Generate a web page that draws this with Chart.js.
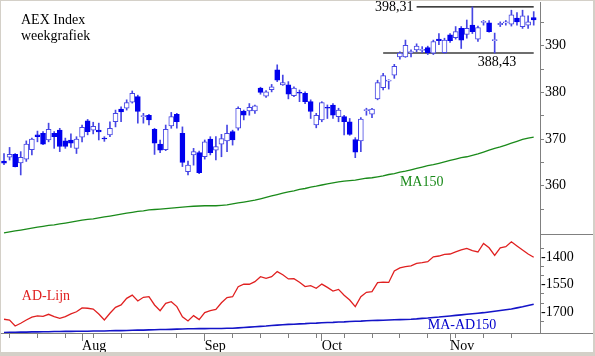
<!DOCTYPE html>
<html><head><meta charset="utf-8">
<script src="https://cdn.jsdelivr.net/npm/chart.js@4"></script>
<style>html,body{margin:0;padding:0;background:#fff;}canvas{display:block;}</style>
</head><body>
<canvas id="c" width="595" height="356"></canvas>
<script>
// ---- data (daily candles, 12 Jul - 22 Nov) ----
const openV  = [365.3,366.1,366.7,364.9,365.7,367.7,370.9,371.2,369.8,371.2,371.9,369.6,369.8,368.0,370.4,373.9,371.9,371.9,370.1,370.9,373.7,376.4,376.6,377.9,379.1,374.8,375.1,372.1,368.9,367.7,372.8,375.3,371.2,363.0,366.6,367.1,366.2,370.0,367.6,368.9,369.6,371.6,372.3,376.0,376.0,376.0,380.9,379.2,380.6,384.8,381.6,381.6,379.3,379.9,379.8,378.0,373.0,374.1,376.7,377.3,374.8,374.8,373.7,369.9,369.6,376.1,375.3,378.6,381.0,382.4,383.7,387.6,387.6,388.5,389.1,389.0,389.6,388.4,391.4,388.5,392.3,391.7,393.7,392.4,394.4,391.4,395.0,394.9,391.1,394.5,394.9,394.6,395.9,394.1,394.4,396.0];
const highV  = [366.9,368.2,366.9,367.3,369.6,370.2,371.7,371.6,373.4,371.6,372.3,370.2,371.1,370.5,373.0,374.2,373.6,373.4,370.5,373.7,376.2,376.9,378.4,380.3,379.4,375.5,375.3,372.3,369.8,373.0,375.7,375.5,372.6,365.3,368.0,367.4,369.8,370.5,370.5,371.0,373.0,371.9,376.9,376.2,377.6,377.3,381.1,380.4,381.7,385.9,383.7,382.3,381.2,380.5,380.1,378.4,375.5,378.0,377.3,377.6,376.6,375.1,374.4,370.3,374.6,376.6,376.6,382.6,384.1,382.7,386.0,388.7,391.2,389.1,390.4,389.8,389.9,391.2,392.6,391.6,392.6,394.1,394.1,395.5,398.31,394.2,395.4,395.4,392.7,395.1,395.4,397.6,397.1,397.6,396.4,397.3];
const lowV   = [364.5,365.5,364.0,362.3,365.2,366.6,369.4,368.8,369.4,368.0,367.3,368.0,368.2,366.9,369.4,370.9,371.1,369.8,369.5,370.5,372.6,373.7,376.2,377.7,373.4,373.4,373.0,366.7,367.1,367.5,372.3,372.3,364.1,362.3,364.4,362.6,365.7,366.6,365.5,366.2,367.3,368.7,371.9,374.1,375.1,375.5,379.6,378.9,380.1,382.3,381.5,378.6,379.1,378.0,377.6,374.4,372.4,373.7,374.4,374.4,373.7,370.9,370.8,366.0,367.3,375.1,374.6,378.4,380.5,380.7,383.0,387.1,387.5,387.6,388.7,388.5,388.1,388.1,390.2,388.4,390.7,391.4,389.4,391.6,392.6,390.9,394.4,392.9,388.43,394.1,394.4,394.2,394.4,393.7,393.7,394.4];
const closeV = [364.8,366.7,364.1,366.1,368.9,370.0,370.5,368.9,372.1,370.5,368.4,368.4,369.1,370.0,372.5,371.6,372.7,371.5,370.0,372.3,375.5,375.8,377.8,379.8,375.9,375.0,374.1,369.1,367.6,372.1,374.8,373.7,365.0,364.4,367.3,362.8,369.4,367.1,368.4,370.1,371.2,369.8,376.6,375.1,376.8,377.1,380.0,380.1,381.2,382.6,382.1,379.6,380.9,379.8,378.0,375.9,375.1,377.8,376.6,375.1,376.2,373.7,371.0,367.2,374.3,376.2,376.4,382.1,383.6,382.5,385.6,388.4,390.1,388.6,389.9,389.1,388.5,390.9,391.1,391.2,391.1,393.0,391.2,393.7,393.0,393.9,395.1,393.0,391.2,394.8,395.0,396.6,395.1,396.4,395.1,395.5];
const ma150  = [349.9,350.1,350.3,350.5,350.7,350.9,351.1,351.3,351.5,351.6,351.8,352.0,352.2,352.4,352.6,352.8,352.9,353.1,353.3,353.5,353.7,353.9,354.1,354.3,354.5,354.6,354.8,354.9,355.0,355.1,355.2,355.3,355.4,355.5,355.6,355.65,355.7,355.7,355.7,355.8,355.9,356.1,356.3,356.5,356.7,356.9,357.2,357.5,357.8,358.1,358.4,358.7,358.9,359.2,359.4,359.7,359.9,360.15,360.4,360.6,360.8,361.0,361.1,361.2,361.4,361.6,361.7,361.9,362.1,362.4,362.6,362.9,363.1,363.4,363.7,364.0,364.3,364.5,364.8,365.1,365.4,365.7,366.0,366.2,366.5,366.8,367.2,367.6,368.0,368.3,368.7,369.1,369.5,369.9,370.2,370.4];
const adLine = [-1738,-1742,-1775,-1760,-1742,-1726,-1720,-1722,-1711,-1724,-1733,-1724,-1709,-1697,-1676,-1678,-1682,-1709,-1742,-1705,-1673,-1660,-1624,-1606,-1638,-1618,-1615,-1660,-1691,-1651,-1642,-1669,-1724,-1747,-1718,-1740,-1702,-1691,-1684,-1648,-1620,-1615,-1560,-1547,-1547,-1533,-1506,-1515,-1506,-1478,-1495,-1518,-1517,-1536,-1560,-1555,-1569,-1546,-1564,-1584,-1575,-1607,-1633,-1669,-1615,-1591,-1587,-1538,-1535,-1537,-1475,-1458,-1451,-1447,-1433,-1429,-1424,-1397,-1393,-1384,-1382,-1371,-1360,-1351,-1364,-1371,-1324,-1348,-1389,-1348,-1342,-1315,-1338,-1360,-1382,-1400];
const maAd150 = [-1810,-1809,-1809,-1808,-1808,-1807,-1807,-1806,-1806,-1805,-1805,-1804,-1804,-1803,-1803,-1803,-1802,-1802,-1802,-1801,-1800,-1800,-1799,-1798,-1797,-1797,-1796,-1795,-1794,-1794,-1793,-1792,-1791,-1790,-1790,-1789,-1789,-1788,-1788,-1788,-1787,-1787,-1785,-1783,-1781,-1779,-1777,-1775,-1772,-1770,-1768,-1766,-1765,-1763,-1762,-1760,-1759,-1757,-1756,-1755,-1753,-1752,-1750,-1749,-1748,-1746,-1745,-1744,-1743,-1742,-1741,-1740,-1739,-1738,-1736,-1733,-1731,-1728,-1726,-1723,-1720,-1717,-1714,-1711,-1708,-1705,-1702,-1698,-1694,-1690,-1686,-1682,-1676,-1670,-1663,-1656];
const priceTicks = [355,360,365,370,375,380,385,390,395];
const priceLabels = [360,370,380,390];
const adTicks = [-1350,-1400,-1450,-1500,-1550,-1600,-1650,-1700,-1750];
const adLabels = [-1400,-1550,-1700];
const weekTicks = [1,6,11,16,21,26,31,36,41,46,51,56,61,66,71,76,81,86,91];
const monthTicks = [14,36,57,80];
const monthNames = ['Aug','Sep','Oct','Nov'];
const highMark = 398.31, highMarkFrom = 74;
const lowMark = 388.43, lowMarkFrom = 68;
const highMarkText = '398,31', lowMarkText = '388,43';

// ---- build ----
const idx = openV.map((_, i) => i);
const allXTicks = Array.from(new Set(weekTicks.concat(monthTicks))).sort((a,b)=>a-b);
const up = i => closeV[i] >= openV[i];
const FONT = 'Liberation Serif';
const BLUE = '#0000ee', OUT = '#4646e4';
const noPad = s => { s.paddingTop = 0; s.paddingBottom = 0; s.paddingLeft = 0; s.paddingRight = 0; };

const labelsPlugin = {
  id: 'labels',
  afterDraw(chart) {
    const c = chart.ctx, x = chart.scales.x, y = chart.scales.y, y2 = chart.scales.y2, ca = chart.chartArea;
    c.save();
    c.strokeStyle = '#808080'; c.lineWidth = 1;
    c.beginPath();
    c.moveTo(ca.right, Math.round(y.bottom) + 0.5); c.lineTo(chart.width, Math.round(y.bottom) + 0.5);
    c.moveTo(ca.right, Math.round(ca.bottom) + 0.5); c.lineTo(chart.width, Math.round(ca.bottom) + 0.5);
    c.stroke();
    c.font = '14px "' + FONT + '"';
    c.textBaseline = 'alphabetic';
    c.fillStyle = '#000';
    c.textAlign = 'left';
    c.fillText('AEX Index', ca.left + 20, 24);
    c.fillText('weekgrafiek', ca.left + 20, 40);
    c.textBaseline = 'middle';
    c.textAlign = 'right';
    c.fillText(highMarkText, x.getPixelForValue(highMarkFrom) - 3, y.getPixelForValue(highMark));
    c.textAlign = 'center';
    c.fillText(lowMarkText, x.getPixelForValue(88.4), y.getPixelForValue(lowMark) + 9);
    c.textAlign = 'left';
    c.fillStyle = '#1a8a1a';
    c.fillText('MA150', x.getPixelForValue(71), y.getPixelForValue(360.8));
    c.fillStyle = '#e02020';
    c.fillText('AD-Lijn', x.getPixelForValue(3.2), y2.getPixelForValue(-1611));
    c.fillStyle = '#0000cc';
    c.fillText('MA-AD150', x.getPixelForValue(76), y2.getPixelForValue(-1769));
    c.fillStyle = '#d4d0c8';
    c.fillRect(0, 0, chart.width, 1);
    c.fillRect(0, 0, 1, chart.height);
    c.fillRect(chart.width - 2, 0, 2, chart.height);
    c.fillRect(0, chart.height - 4, chart.width, 4);
    c.restore();
  }
};

new Chart(document.getElementById('c'), {
  type: 'bar',
  data: {
    datasets: [
      { label: 'bodies', data: idx.map(i => ({x: i, y: [openV[i], closeV[i]]})), yAxisID: 'y',
        backgroundColor: idx.map(i => up(i) ? '#ffffff' : BLUE),
        borderColor: idx.map(i => up(i) ? OUT : BLUE),
        borderWidth: 1, borderSkipped: false, barThickness: 5, minBarLength: 1, grouped: false, order: 0 },
      { label: 'wicks', data: idx.map(i => ({x: i, y: [lowV[i], highV[i]]})), yAxisID: 'y',
        backgroundColor: OUT, barThickness: 1, grouped: false, order: 1 },
      { type: 'line', label: 'MA150', data: idx.map(i => ({x: i, y: ma150[i]})), yAxisID: 'y',
        borderColor: '#1a8a1a', borderWidth: 1.3, pointRadius: 0, tension: 0, order: 2 },
      { type: 'line', label: 'high', data: idx.filter(i => i >= highMarkFrom).map(i => ({x: i, y: highMark})), yAxisID: 'y',
        borderColor: '#000', borderWidth: 1.2, pointRadius: 0, order: 3 },
      { type: 'line', label: 'low', data: idx.filter(i => i >= lowMarkFrom).map(i => ({x: i, y: lowMark})), yAxisID: 'y',
        borderColor: '#6e6e6e', borderWidth: 1.8, pointRadius: 0, order: 3 },
      { type: 'line', label: 'AD-Lijn', data: idx.map(i => ({x: i, y: adLine[i]})), yAxisID: 'y2',
        borderColor: '#e02020', borderWidth: 1.3, pointRadius: 0, tension: 0, order: 2 },
      { type: 'line', label: 'MA-AD150', data: idx.map(i => ({x: i, y: maAd150[i]})), yAxisID: 'y2',
        borderColor: '#1414c8', borderWidth: 1.6, pointRadius: 0, tension: 0, order: 2 }
    ]
  },
  options: {
    responsive: false, animation: false, devicePixelRatio: 1, events: [],
    layout: { padding: { left: 1, top: 2, right: 0, bottom: 0 } },
    plugins: { legend: { display: false }, tooltip: { enabled: false } },
    scales: {
      x: {
        type: 'linear', position: 'bottom', min: -0.538, max: 96.13, offset: false,
        afterBuildTicks: s => { s.ticks = allXTicks.map(v => ({value: v})); },
        afterFit: s => { s.height = 23; noPad(s); },
        grid: { offset: false, drawOnChartArea: false, tickLength: 8, tickColor: '#808080',
                tickBorderDash: ctx => monthTicks.includes(ctx.tick && ctx.tick.value) ? [] : [4, 30] },
        border: { color: '#808080' },
        ticks: { autoSkip: false, maxRotation: 0, align: 'start', padding: -3, color: '#000',
                 font: { family: FONT, size: 14 },
                 callback: v => { const k = monthTicks.indexOf(v); return k >= 0 ? monthNames[k] : ''; } }
      },
      y: {
        type: 'linear', position: 'right', stack: 'panels', stackWeight: 232, min: 349.65, max: 399.36, offset: false,
        afterBuildTicks: s => { s.ticks = priceTicks.map(v => ({value: v})); },
        afterFit: s => { s.width = 55; noPad(s); },
        grid: { drawOnChartArea: false, tickLength: 4, tickColor: '#808080' },
        border: { color: '#808080' },
        ticks: { autoSkip: false, padding: 1, color: '#000', font: { family: FONT, size: 14 },
                 callback: v => priceLabels.includes(v) ? String(v) : '' }
      },
      y2: {
        type: 'linear', position: 'right', stack: 'panels', stackWeight: 99, min: -1812.9, max: -1272.9, offset: false,
        afterBuildTicks: s => { s.ticks = adTicks.map(v => ({value: v})); },
        afterFit: s => { s.width = 55; noPad(s); },
        grid: { drawOnChartArea: false, tickLength: 4,
                tickColor: ctx => adLabels.includes(ctx.tick && ctx.tick.value) ? 'rgba(0,0,0,0)' : '#808080' },
        border: { color: '#808080' },
        ticks: { autoSkip: false, padding: -3, color: '#000', font: { family: FONT, size: 14 },
                 callback: v => adLabels.includes(v) ? String(v) : '' }
      }
    }
  },
  plugins: [labelsPlugin]
});
</script>
</body></html>
